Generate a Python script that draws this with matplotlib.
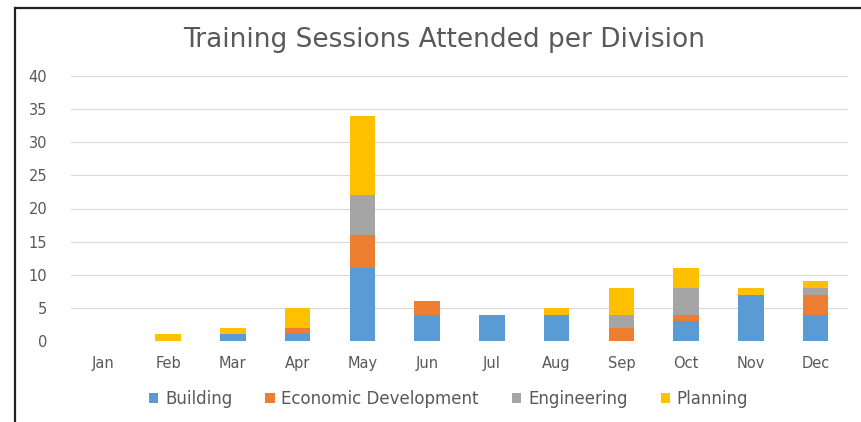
import numpy as np
from matplotlib import pyplot as plt
from matplotlib.lines import Line2D

months = ['Jan', 'Feb', 'Mar', 'Apr', 'May', 'Jun', 'Jul', 'Aug', 'Sep', 'Oct', 'Nov', 'Dec']
building = [0, 0, 1, 1, 11, 4, 4, 4, 0, 3, 7, 4]
economic = [0, 0, 0, 1, 5, 2, 0, 0, 2, 1, 0, 3]
engineering = [0, 0, 0, 0, 6, 0, 0, 0, 2, 4, 0, 1]
planning = [0, 1, 1, 3, 12, 0, 0, 1, 4, 3, 1, 1]

series = [('Building', building, '#5B9BD5'),
          ('Economic Development', economic, '#ED7D31'),
          ('Engineering', engineering, '#A5A5A5'),
          ('Planning', planning, '#FFC000')]

plt.rcParams['font.family'] = ['DejaVu Sans']
txt = '#595959'

fig = plt.figure(figsize=(8.62, 4.22), dpi=100)
ax = fig.add_axes([71/862, 81/422, 777/862, 265/422])

x = np.arange(len(months))
bottom = np.zeros(len(months))
for name, vals, col in series:
    ax.bar(x, vals, 0.39, bottom=bottom, color=col, label=name, zorder=3)
    bottom += np.array(vals)

ax.set_xlim(-0.5, 11.5)
ax.set_ylim(0, 40)
ax.set_yticks(range(0, 41, 5))
ax.set_xticks(x)
ax.set_xticklabels(months)
ax.tick_params(length=0, labelsize=10.5, labelcolor=txt)
ax.tick_params(axis='y', pad=17)
ax.tick_params(axis='x', pad=11)
ax.grid(axis='y', color='#D9D9D9', lw=0.8, zorder=0)
for s in ax.spines.values():
    s.set_visible(False)

fig.text(444/862, 1 - 40/422, 'Training Sessions Attended per Division',
         ha='center', va='center', fontsize=19, color=txt)

ax.legend(loc='center', bbox_to_anchor=(0.486, (422 - 399 - 81) / 265), ncol=4,
          frameon=False, fontsize=12, labelcolor=txt, handlelength=0.55,
          handleheight=0.55, handletextpad=0.4, columnspacing=2.0)

# frame around the pasted chart
fig.add_artist(Line2D([15/862, 15/862], [0, 1 - 8/422], color='#222222', lw=1.6))
fig.add_artist(Line2D([15/862, 1], [1 - 8/422, 1 - 8/422], color='#222222', lw=1.6))

fig.savefig('out.png', dpi=100)
